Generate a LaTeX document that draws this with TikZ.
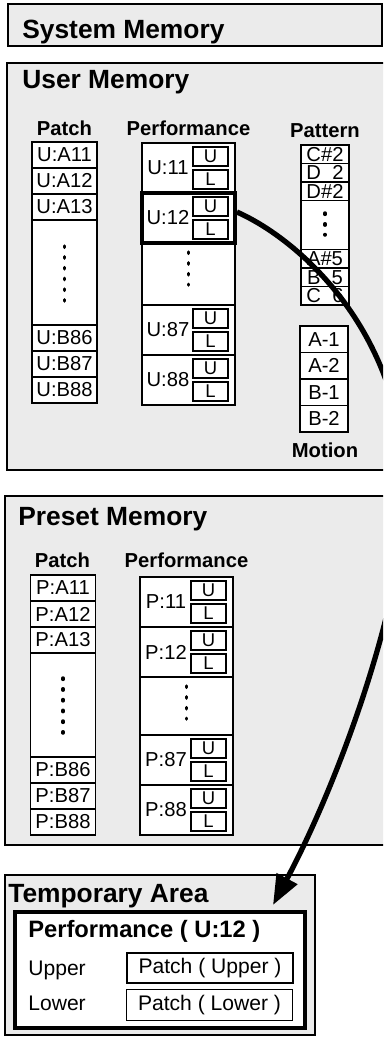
\documentclass[tikz,border=0pt]{standalone}
\usepackage{fontspec}
\setmainfont{Liberation Sans}
\usetikzlibrary{arrows.meta}

\begin{document}
\begin{tikzpicture}[
    x=0.02cm, y=-0.02cm,
    every node/.style={inner sep=0pt},
    area/.style={draw, line width=1.5pt, fill=black!8},
    title/.style={font=\fontsize{15}{18}\selectfont\bfseries, anchor=base west},
    head/.style={font=\fontsize{11.5}{14}\selectfont\bfseries, anchor=base},
    cell/.style={draw, fill=white, line width=1pt, font=\fontsize{11.5}{14}\selectfont},
    patchcell/.style={cell, minimum width=1.3cm, minimum height=0.52cm},
    perfcell/.style={cell, minimum width=1.86cm, minimum height=1cm},
    pattcell/.style={cell, minimum width=0.96cm, minimum height=0.37cm, text height=8pt, text depth=0pt},
    motioncell/.style={cell, minimum width=0.96cm, minimum height=0.53cm},
    perflabel/.style={font=\fontsize{11.5}{14}\selectfont},
    ulbox/.style={draw, fill=white, line width=0.8pt, minimum width=0.7cm, minimum height=0.38cm, font=\fontsize{10.5}{12}\selectfont},
    dotcol/.style={line width=2pt, line cap=round, dash pattern=on 0.8pt off 5.32pt},
    plain/.style={font=\fontsize{12}{14}\selectfont}
]

\useasboundingbox (0,0) rectangle (383,1039);
\clip (0,0) rectangle (383,1039);

% === System Memory ===
\draw[area] (8,4) rectangle (382,46);
\node[title] (sysmem) at (22,38) {System Memory};

% === User Memory ===
\draw[area] (7,63) rectangle (400,470);
\node[title] (usermem) at (22,88) {User Memory};
\node[head] (uhpatch) at (64.5,135) {Patch};
\node[head] (uhperf) at (188.5,135) {Performance};
\node[head] (uhpatt) at (325,137) {Pattern};

% Patch column
\node[patchcell] (ua11) at (64.5,155) {U:A11};
\node[patchcell] (ua12) at (64.5,181) {U:A12};
\node[patchcell] (ua13) at (64.5,207) {U:A13};
\node[patchcell, minimum height=2.1cm] (upatchdots) at (64.5,272.5) {};
\draw[dotcol] (64.5,246) -- (64.5,301);
\node[patchcell] (ub86) at (64.5,338) {U:B86};
\node[patchcell] (ub87) at (64.5,364) {U:B87};
\node[patchcell] (ub88) at (64.5,390) {U:B88};

% Performance column
\node[perfcell] (u11) at (188.5,168) {};
\node[perflabel] (u11name) at (168,168) {U:11};
\node[ulbox] (u11up) at (210.5,156.5) {U};
\node[ulbox] (u11lo) at (210.5,179.5) {L};
\node[perfcell, minimum height=1.24cm] (uperfdots) at (188.5,274) {};
\draw[dotcol] (188.5,252) -- (188.5,285);
\node[perfcell] (u87) at (188.5,330) {};
\node[perflabel] (u87name) at (168,330) {U:87};
\node[ulbox] (u87up) at (210.5,318.5) {U};
\node[ulbox] (u87lo) at (210.5,341.5) {L};
\node[perfcell] (u88) at (188.5,380) {};
\node[perflabel] (u88name) at (168,380) {U:88};
\node[ulbox] (u88up) at (210.5,368.5) {U};
\node[ulbox] (u88lo) at (210.5,391.5) {L};
% selected performance
\node[perfcell, line width=2.2pt] (u12) at (188.5,218) {};
\node[perflabel] (u12name) at (168,218) {U:12};
\node[ulbox] (u12up) at (210.5,206.5) {U};
\node[ulbox] (u12lo) at (210.5,229.5) {L};

% Pattern column
\node[pattcell] (pc2) at (325,154.25) {C\#2};
\node[pattcell] (pd2) at (325,172.75) {D\ \ 2};
\node[pattcell] (pds2) at (325,191.25) {D\#2};
\node[pattcell, minimum height=0.98cm] (pattdots) at (325,225) {};
\draw[dotcol] (325,213) -- (325,235);
\node[pattcell] (pas5) at (325,258.75) {A\#5};
\node[pattcell] (pb5) at (325,277.25) {B\ \ 5};
\node[pattcell] (pc6) at (325,295.75) {C\ \ 6};

% Motion column
\node[motioncell] (ma1) at (324,339.25) {A-1};
\node[motioncell] (ma2) at (324,365.75) {A-2};
\node[motioncell] (mb1) at (324,392.25) {B-1};
\node[motioncell] (mb2) at (324,418.75) {B-2};
\node[head] (uhmotion) at (325,457) {Motion};

% === Preset Memory ===
\draw[area] (5,496) rectangle (400,845);
\node[title] (presetmem) at (18,525) {Preset Memory};
\node[head] (phpatch) at (62.5,567) {Patch};
\node[head] (phperf) at (186.5,567) {Performance};

% Patch column
\node[patchcell] (pa11) at (63,588) {P:A11};
\node[patchcell] (pa12) at (63,614) {P:A12};
\node[patchcell] (pa13) at (63,640) {P:A13};
\node[patchcell, minimum height=2.08cm] (ppatchdots) at (63,705) {};
\draw[dotcol] (63,678) -- (63,733);
\node[patchcell] (pb86) at (63,770) {P:B86};
\node[patchcell] (pb87) at (63,796) {P:B87};
\node[patchcell] (pb88) at (63,822) {P:B88};

% Performance column
\node[perfcell] (p11) at (186.5,602) {};
\node[perflabel] (p11name) at (166,602) {P:11};
\node[ulbox] (p11up) at (208.5,590.5) {U};
\node[ulbox] (p11lo) at (208.5,613.5) {L};
\node[perfcell] (p12) at (186.5,652) {};
\node[perflabel] (p12name) at (166,652) {P:12};
\node[ulbox] (p12up) at (208.5,640.5) {U};
\node[ulbox] (p12lo) at (208.5,663.5) {L};
\node[perfcell, minimum height=1.16cm] (pperfdots) at (186.5,706) {};
\draw[dotcol] (186.5,686) -- (186.5,719);
\node[perfcell] (p87) at (186.5,760) {};
\node[perflabel] (p87name) at (166,760) {P:87};
\node[ulbox] (p87up) at (208.5,748.5) {U};
\node[ulbox] (p87lo) at (208.5,771.5) {L};
\node[perfcell] (p88) at (186.5,810) {};
\node[perflabel] (p88name) at (166,810) {P:88};
\node[ulbox] (p88up) at (208.5,798.5) {U};
\node[ulbox] (p88lo) at (208.5,821.5) {L};

% === Temporary Area ===
\draw[area, line width=1.2pt] (5,875) rectangle (315,1035);
\node[title] (tempttl) at (8,902) {Temporary Area};
\node[draw, line width=2.6pt, fill=white, minimum width=5.8cm, minimum height=2.32cm] (tempperf) at (160,970) {};
\node[font=\fontsize{13.5}{16}\selectfont\bfseries, anchor=base west] (tempname) at (28,937) {Performance ( U:12 )};
\node[plain, anchor=base west] (upper) at (28,975) {Upper};
\node[plain, draw, line width=0.9pt, minimum width=3.32cm, minimum height=0.6cm] (patchup) at (210,968) {Patch ( Upper )};
\node[plain, anchor=base west] (lower) at (28,1010) {Lower};
\node[plain, draw, line width=0.9pt, minimum width=3.32cm, minimum height=0.62cm] (patchlo) at (209.5,1005) {Patch ( Lower )};

% copy arrow
\coordinate (bend) at (405,480);
\coordinate (tip) at (273,905);
\draw[line width=3pt, -{Triangle[length=0.6cm,width=0.45cm]}] ([yshift=0.12cm]u12.east) .. controls (300,240) and (400,330) .. (bend) .. controls (410,580) and (345,770) .. (tip);

\end{tikzpicture}
\end{document}
